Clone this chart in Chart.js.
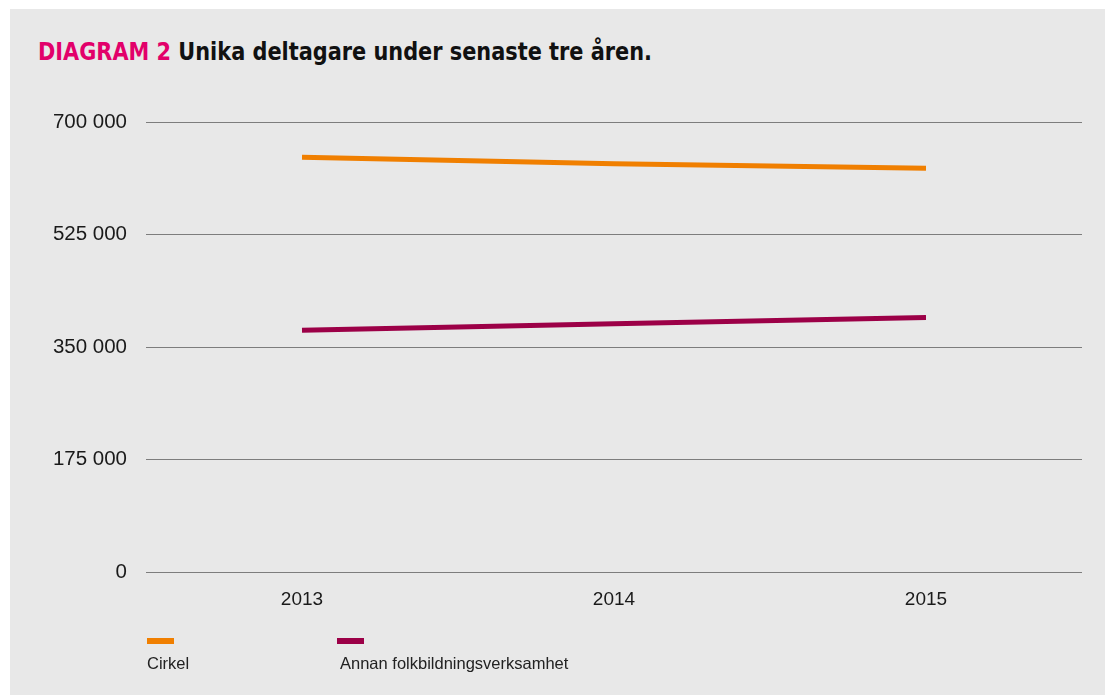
<!DOCTYPE html>
<html lang="sv">
<head>
<meta charset="utf-8">
<script src="https://cdn.jsdelivr.net/npm/chart.js@4"></script>
<style>
  html, body { margin:0; padding:0; background:#ffffff; }
  body { width:1105px; height:695px; position:relative; overflow:hidden; font-family:"Liberation Sans", Arial, sans-serif; }
  #panel { position:absolute; left:10px; top:9px; width:1095px; height:686px; background:#e8e8e8; }
  #title { position:absolute; left:38px; top:37px; font-family:"DejaVu Sans",sans-serif; font-weight:bold; font-size:24px; color:#111; white-space:nowrap; line-height:30px; transform-origin:0 50%; }
  #title .lead { color:#e2006a; }
  #wrap { position:absolute; left:0; top:0; width:1105px; height:695px; }
  .leg { position:absolute; top:638px; }
  .leg .sw { width:27px; height:6px; }
  .leg .tx { position:absolute; top:16px; left:0; font-size:16.5px; color:#222; white-space:nowrap; }
</style>
</head>
<body>
<div id="panel"></div>
<div id="title"><span class="lead">DIAGRAM 2</span> Unika deltagare under senaste tre åren.</div>
<div id="wrap"><canvas id="c" width="1105" height="695"></canvas></div>
<div id="legend"></div>
<script>
const categories = ["2013", "2014", "2015"];
const seriesNames = ["Cirkel", "Annan folkbildningsverksamhet"];
const cirkel = [645000, 635000, 628000];
const annan = [376000, 386000, 396000];
const yTicks = [0, 175000, 350000, 525000, 700000];
const colors = ["#f07f00", "#9c0047"];

const fmt = v => String(Math.round(v)).replace(/\B(?=(\d{3})+(?!\d))/g, " ");

// fit the title to the reference's condensed width
const t = document.getElementById("title");
const tw = t.getBoundingClientRect().width;
t.style.transform = "scaleX(" + (614 / tw) + ")";

const ctx = document.getElementById("c").getContext("2d");
new Chart(ctx, {
  type: "line",
  data: {
    labels: categories,
    datasets: [
      { label: seriesNames[0], data: cirkel, borderColor: colors[0], backgroundColor: colors[0], borderWidth: 5, pointRadius: 0, tension: 0, fill: false, borderCapStyle: "butt" },
      { label: seriesNames[1], data: annan, borderColor: colors[1], backgroundColor: colors[1], borderWidth: 5, pointRadius: 0, tension: 0, fill: false, borderCapStyle: "butt" }
    ]
  },
  options: {
    responsive: false,
    animation: false,
    devicePixelRatio: 1,
    layout: { padding: { left: 0, right: 23, top: 122, bottom: 73 } },
    plugins: { legend: { display: false }, tooltip: { enabled: false }, title: { display: false } },
    scales: {
      x: {
        offset: true,
        grid: { display: false, drawTicks: false },
        border: { display: false },
        ticks: { color: "#1a1a1a", font: { family: "Liberation Sans", size: 19 }, padding: 16 },
        afterFit: s => { s.height = 50; }
      },
      y: {
        min: 0, max: 700000,
        afterBuildTicks: s => { s.ticks = yTicks.map(v => ({ value: v })); },
        grid: { color: "#7d7d7d", lineWidth: 1, drawTicks: false },
        border: { display: false },
        ticks: { color: "#1a1a1a", font: { family: "Liberation Sans", size: 20.5 }, padding: 19, callback: v => fmt(v) },
        afterFit: s => { s.width = 146; }
      }
    }
  }
});

const legX = [147, 337];
const leg = document.getElementById("legend");
seriesNames.forEach((n, i) => {
  const d = document.createElement("div");
  d.className = "leg";
  d.style.left = legX[i] + "px";
  d.innerHTML = '<div class="sw" style="background:' + colors[i] + '"></div><div class="tx" style="left:' + (i ? 3 : 0) + 'px"></div>';
  d.querySelector(".tx").textContent = n;
  leg.appendChild(d);
});
</script>
</body>
</html>
